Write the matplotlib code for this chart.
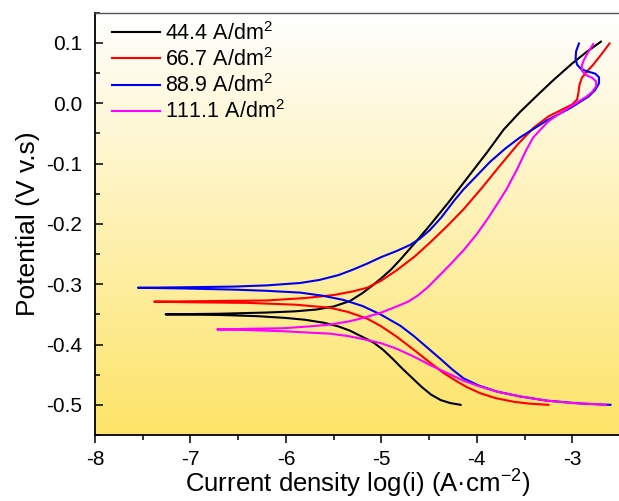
import numpy as np
import matplotlib
matplotlib.use("Agg")
import matplotlib.pyplot as plt
from matplotlib.colors import LinearSegmentedColormap
from matplotlib.ticker import MultipleLocator

plt.rcParams['font.family'] = ['Liberation Sans', 'DejaVu Sans']
plt.rcParams['mathtext.default'] = 'regular'

labels = ['44.4 A/dm$^2$', '66.7 A/dm$^2$', '88.9 A/dm$^2$', '111.1 A/dm$^2$']
colors = ['black', '#FF0000', '#0000F0', '#FF00FF']

# each curve: cathodic branch from its -0.5 V end to Ecorr, then anodic branch up
x_444 = [-4.17, -4.28, -4.38, -4.48, -4.58, -4.68, -4.78, -4.88, -4.98, -5.08, -5.19, -5.33,
         -5.45, -5.60, -5.80, -6.00, -6.30, -6.70, -7.26,
         -6.70, -6.20, -5.90, -5.68, -5.50, -5.33, -5.20, -5.10, -5.00, -4.90, -4.80, -4.65,
         -4.49, -4.30, -4.10, -3.90, -3.72, -3.55, -3.38, -3.20, -3.00, -2.85, -2.70]
y_444 = [-0.500, -0.497, -0.492, -0.483, -0.470, -0.455, -0.440, -0.424, -0.409, -0.397, -0.388, -0.377,
         -0.370, -0.364, -0.359, -0.356, -0.353, -0.351, -0.350,
         -0.349, -0.347, -0.345, -0.342, -0.337, -0.328, -0.315, -0.303, -0.290, -0.276, -0.259, -0.232,
         -0.202, -0.165, -0.124, -0.083, -0.044, -0.015, 0.011, 0.038, 0.066, 0.085, 0.102]

x_667 = [-3.25, -3.45, -3.61, -3.80, -3.96, -4.10, -4.21, -4.35, -4.49, -4.65, -4.84, -5.00,
         -5.15, -5.35, -5.54, -5.90, -6.40, -7.00, -7.38,
         -6.80, -6.20, -5.80, -5.50, -5.30, -5.15, -5.00, -4.84, -4.65, -4.49, -4.30, -4.14,
         -3.95, -3.76, -3.57, -3.40, -3.25, -3.10, -3.00, -2.95, -2.935, -2.925, -2.90, -2.85,
         -2.78, -2.70, -2.61]
y_667 = [-0.500, -0.498, -0.495, -0.489, -0.481, -0.471, -0.461, -0.447, -0.430, -0.410, -0.387, -0.370,
         -0.357, -0.346, -0.339, -0.334, -0.331, -0.330, -0.329,
         -0.328, -0.327, -0.323, -0.318, -0.312, -0.306, -0.294, -0.277, -0.254, -0.231, -0.202, -0.176,
         -0.141, -0.104, -0.068, -0.040, -0.022, -0.010, -0.002, 0.006, 0.018, 0.030, 0.042, 0.052,
         0.064, 0.080, 0.099]

x_889 = [-2.60, -2.90, -3.27, -3.55, -3.79, -3.98, -4.14, -4.26, -4.38, -4.52, -4.66, -4.80,
         -5.01, -5.20, -5.40, -5.62, -5.85, -6.20, -6.55, -7.10, -7.55,
         -7.00, -6.55, -6.20, -5.85, -5.65, -5.45, -5.30, -5.15, -5.00, -4.84, -4.70, -4.60, -4.49,
         -4.37, -4.24, -4.14, -4.03, -3.86, -3.70, -3.55, -3.40, -3.27, -3.14, -3.02, -2.92,
         -2.83, -2.76, -2.72, -2.72, -2.76, -2.85, -2.91, -2.95, -2.965, -2.96, -2.93]
y_889 = [-0.500, -0.498, -0.493, -0.486, -0.478, -0.468, -0.456, -0.441, -0.424, -0.405, -0.386, -0.369,
         -0.350, -0.336, -0.326, -0.319, -0.314, -0.311, -0.309, -0.307, -0.306,
         -0.305, -0.304, -0.302, -0.298, -0.293, -0.285, -0.276, -0.266, -0.255, -0.245, -0.235, -0.225, -0.210,
         -0.189, -0.162, -0.143, -0.125, -0.097, -0.075, -0.057, -0.042, -0.029, -0.018, -0.008, 0.002,
         0.011, 0.022, 0.033, 0.043, 0.049, 0.053, 0.057, 0.064, 0.074, 0.086, 0.099]

x_1111 = [-2.65, -2.74, -3.00, -3.27, -3.55, -3.79, -3.98, -4.14, -4.30, -4.49, -4.66, -4.84,
          -5.00, -5.19, -5.35, -5.54, -6.03, -6.40, -6.72,
          -6.40, -6.03, -5.75, -5.54, -5.35, -5.19, -5.00, -4.84, -4.72, -4.62, -4.52, -4.40,
          -4.27, -4.14, -4.00, -3.88, -3.79, -3.69, -3.58, -3.48, -3.41, -3.34, -3.25, -3.16,
          -3.07, -2.99, -2.92, -2.85, -2.79, -2.75, -2.75, -2.79, -2.86, -2.90, -2.90, -2.88,
          -2.84, -2.78]
y_1111 = [-0.500, -0.499, -0.497, -0.493, -0.486, -0.478, -0.469, -0.460, -0.448, -0.434, -0.420, -0.407,
          -0.398, -0.391, -0.386, -0.382, -0.378, -0.376, -0.375,
          -0.374, -0.373, -0.370, -0.367, -0.362, -0.356, -0.347, -0.337, -0.329, -0.319, -0.306, -0.287,
          -0.266, -0.244, -0.217, -0.190, -0.168, -0.143, -0.110, -0.077, -0.057, -0.045, -0.030, -0.020,
          -0.011, -0.003, 0.004, 0.011, 0.019, 0.028, 0.036, 0.042, 0.047, 0.054, 0.062, 0.071,
          0.083, 0.098]

curves = [(x_444, y_444), (x_667, y_667), (x_889, y_889), (x_1111, y_1111)]

fig = plt.figure(figsize=(6.19, 5.01), dpi=100)
ax = fig.add_axes([95 / 619, 66 / 501, 525 / 619, 422.3 / 501])

# white-to-yellow background
cmap = LinearSegmentedColormap.from_list('bg', ['#FFFFFF', '#FDE468'])
grad = np.linspace(0, 1, 256).reshape(-1, 1)
ax.imshow(grad, cmap=cmap, aspect='auto', extent=[0, 1, 0, 1],
          transform=ax.transAxes, zorder=0, origin='upper')

for (xs, ys), c, lab in zip(curves, colors, labels):
    ax.plot(xs, ys, color=c, lw=1.5, label=lab, zorder=3, solid_joinstyle='round')

ax.set_xlim(-8, -2.5)
ax.set_ylim(-0.55, 0.15)
ax.xaxis.set_minor_locator(MultipleLocator(0.5))
ax.yaxis.set_minor_locator(MultipleLocator(0.05))
ax.set_xticks([-8, -7, -6, -5, -4, -3])
ax.set_yticks([-0.5, -0.4, -0.3, -0.2, -0.1, 0.0, 0.1])
ax.set_yticklabels(['-0.5', '-0.4', '-0.3', '-0.2', '-0.1', '0.0', '0.1'])
ax.set_xticklabels(['-8', '-7', '-6', '-5', '-4', '-3'])

ax.tick_params(axis='x', which='major', direction='out', length=6, width=1.1, labelsize=15, pad=5)
ax.tick_params(axis='x', which='minor', direction='out', length=3.5, width=1.1)
ax.tick_params(axis='y', which='major', direction='in', length=6, width=1.1, labelsize=15, pad=9)
ax.tick_params(axis='y', which='minor', direction='in', length=3.5, width=1.1)

for s in ['left', 'bottom']:
    ax.spines[s].set_linewidth(1.3)
ax.spines['top'].set_color('#555555')
ax.spines['top'].set_linewidth(1.0)
ax.spines['right'].set_visible(False)

ax.set_xlabel('Current density log(i) (A·cm$^{-2}$)', fontsize=18.5, labelpad=-1)
ax.set_ylabel('Potential (V v.s)', fontsize=19, labelpad=5)

ax.legend(loc='upper left', bbox_to_anchor=(0.033, 0.978), frameon=False, fontsize=15.5,
          handlelength=2.2, handletextpad=0.25, labelspacing=0.15, borderpad=0, borderaxespad=0)

fig.savefig('out.png', dpi=100)
